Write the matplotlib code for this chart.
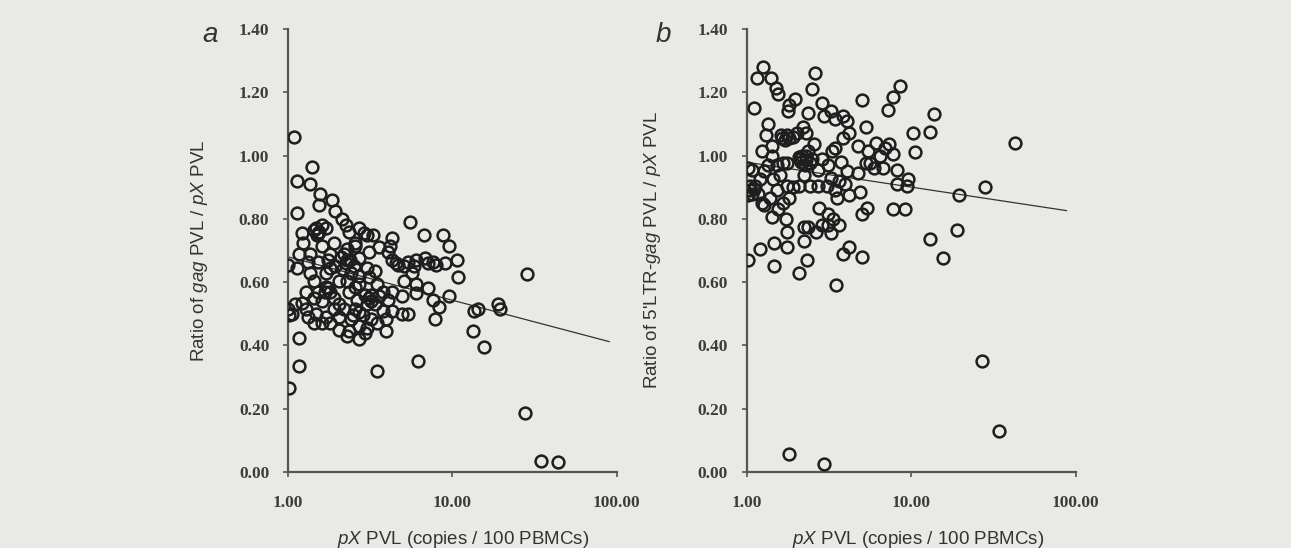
import numpy as np
import matplotlib
matplotlib.use('Agg')
import matplotlib.pyplot as plt

# 字体设置
plt.rcParams['font.family'] = ['Liberation Sans', 'DejaVu Sans']
plt.rcParams['mathtext.fontset'] = 'custom'
plt.rcParams['mathtext.rm'] = 'Liberation Sans'
plt.rcParams['mathtext.it'] = 'Liberation Sans:italic'

# panel a: pX PVL vs gag/pX ratio
gag_points = [
    (1.08, 1.06), (1.39, 0.965), (1.13, 0.92), (1.37, 0.91), (1.13, 0.82), (1.56, 0.88),
    (1.54, 0.845), (1.86, 0.86), (1.94, 0.825), (2.12, 0.80), (2.25, 0.78), (2.34, 0.76),
    (5.5, 0.79), (6.75, 0.75), (8.8, 0.75), (9.5, 0.715), (10.7, 0.67), (10.8, 0.615),
    (4.27, 0.74), (2.9, 0.755), (3.3, 0.75), (1.22, 0.755), (1.24, 0.725), (1.44, 0.765),
    (1.6, 0.78), (1.52, 0.755), (1.7, 0.77), (1.0, 0.655), (1.14, 0.645), (1.17, 0.69),
    (1.36, 0.69), (1.32, 0.665), (1.52, 0.665), (1.76, 0.67), (1.79, 0.645), (1.81, 0.69),
    (2.09, 0.68), (1.94, 0.65), (2.27, 0.705), (2.37, 0.67), (2.52, 0.65), (2.7, 0.675),
    (3.03, 0.645), (3.11, 0.695), (3.6, 0.71), (4.03, 0.695), (4.27, 0.67), (4.66, 0.655),
    (5.08, 0.65), (5.38, 0.665), (6.05, 0.67), (6.78, 0.675), (7.6, 0.665), (8.0, 0.655),
    (9.0, 0.66), (5.85, 0.65), (7.1, 0.66), (3.11, 0.615), (3.4, 0.635), (2.7, 0.62),
    (2.27, 0.605), (2.4, 0.63), (2.15, 0.64), (1.44, 0.605), (1.7, 0.585), (1.8, 0.57),
    (1.52, 0.57), (5.08, 0.605), (6.05, 0.595), (6.05, 0.565), (7.1, 0.58), (7.6, 0.545),
    (8.3, 0.52), (7.8, 0.485), (9.5, 0.555), (4.94, 0.555), (3.6, 0.555), (4.03, 0.545),
    (4.27, 0.51), (4.94, 0.50), (5.38, 0.50), (2.94, 0.56), (2.62, 0.545), (2.7, 0.505),
    (3.03, 0.53), (3.2, 0.485), (3.5, 0.47), (3.93, 0.445), (3.03, 0.455), (2.7, 0.46),
    (2.34, 0.445), (2.27, 0.43), (2.7, 0.42), (2.48, 0.495), (2.2, 0.515), (2.03, 0.49),
    (1.91, 0.515), (1.7, 0.49), (1.6, 0.47), (1.8, 0.47), (1.44, 0.47), (1.48, 0.50),
    (1.28, 0.515), (1.32, 0.49), (1.21, 0.535), (1.0, 0.515), (1.05, 0.50), (1.11, 0.53),
    (1.02, 0.495), (1.17, 0.425), (1.17, 0.335), (1.02, 0.265), (3.5, 0.32), (6.2, 0.35),
    (13.3, 0.445), (15.6, 0.395), (13.5, 0.51), (14.3, 0.515), (19.0, 0.53), (19.6, 0.515),
    (28.5, 0.625), (27.6, 0.185), (34.5, 0.035), (43.7, 0.03), (1.44, 0.55), (1.6, 0.54),
    (1.91, 0.55), (2.03, 0.53), (2.34, 0.57), (2.55, 0.585), (2.7, 0.595), (3.5, 0.595),
    (3.8, 0.57), (4.27, 0.57), (3.2, 0.56), (3.4, 0.53), (3.8, 0.51), (3.93, 0.485),
    (2.55, 0.515), (2.4, 0.485), (2.86, 0.495), (2.94, 0.44), (2.03, 0.45), (2.55, 0.715),
    (1.91, 0.725), (1.6, 0.715), (1.7, 0.63), (2.03, 0.605), (1.36, 0.63), (1.28, 0.57),
    (2.7, 0.77), (3.03, 0.75), (2.55, 0.725), (4.15, 0.715), (4.55, 0.66), (5.7, 0.63),
    (1.47, 0.77), (1.55, 0.76), (1.5, 0.75), (2.2, 0.69), (2.3, 0.67), (2.25, 0.66),
    (1.75, 0.58), (1.68, 0.57), (3.1, 0.55), (3.2, 0.54),
]

# panel b: pX PVL vs 5'LTR-gag/pX ratio
ltr_points = [
    (1.26, 1.28), (1.16, 1.245), (1.40, 1.245), (1.5, 1.215), (1.55, 1.195), (1.11, 1.15),
    (2.6, 1.26), (2.5, 1.21), (1.97, 1.18), (1.81, 1.16), (1.79, 1.14), (2.35, 1.135),
    (2.88, 1.165), (3.24, 1.14), (2.96, 1.125), (5.0, 1.175), (8.6, 1.22), (7.7, 1.185),
    (7.2, 1.145), (13.8, 1.13), (13.1, 1.075), (10.3, 1.07), (10.6, 1.01), (43.0, 1.04),
    (1.34, 1.10), (1.31, 1.065), (1.24, 1.015), (1.43, 1.03), (1.61, 1.065), (1.76, 1.065),
    (1.92, 1.06), (1.71, 1.05), (2.03, 1.07), (2.2, 1.09), (2.28, 1.07), (2.56, 1.035),
    (3.43, 1.115), (3.85, 1.125), (4.08, 1.11), (4.2, 1.07), (3.85, 1.055), (5.3, 1.09),
    (4.72, 1.03), (5.47, 1.015), (6.15, 1.04), (6.9, 1.025), (7.3, 1.035), (7.75, 1.005),
    (6.5, 1.0), (5.6, 0.975), (5.95, 0.96), (6.7, 0.96), (8.2, 0.955), (8.2, 0.91),
    (9.6, 0.925), (9.4, 0.905), (7.75, 0.83), (9.2, 0.83), (5.4, 0.835), (5.0, 0.815),
    (4.85, 0.885), (4.72, 0.945), (5.3, 0.975), (4.08, 0.95), (3.74, 0.98), (3.3, 1.015),
    (3.43, 1.025), (3.14, 0.97), (2.88, 0.99), (2.72, 0.955), (2.42, 0.975), (2.35, 1.015),
    (2.09, 0.995), (2.15, 0.98), (2.28, 1.0), (2.5, 0.99), (2.22, 0.94), (2.42, 0.905),
    (2.72, 0.905), (3.06, 0.905), (3.24, 0.93), (3.63, 0.92), (3.97, 0.91), (3.53, 0.865),
    (4.2, 0.875), (3.43, 0.89), (2.77, 0.835), (3.14, 0.815), (3.33, 0.80), (3.63, 0.78),
    (3.14, 0.78), (2.88, 0.78), (2.63, 0.76), (3.24, 0.755), (2.22, 0.775), (2.35, 0.775),
    (2.22, 0.73), (2.32, 0.67), (2.09, 0.63), (3.85, 0.69), (4.2, 0.71), (5.0, 0.68),
    (3.48, 0.59), (1.76, 0.76), (1.76, 0.71), (1.73, 0.80), (1.46, 0.725), (1.2, 0.705),
    (1.47, 0.65), (1.02, 0.67), (1.42, 0.805), (1.56, 0.83), (1.66, 0.85), (1.81, 0.865),
    (1.76, 0.905), (1.92, 0.90), (2.09, 0.905), (1.59, 0.94), (1.52, 0.97), (1.66, 0.975),
    (1.76, 0.975), (1.43, 1.0), (1.35, 0.97), (1.28, 0.95), (1.2, 0.925), (1.12, 0.905),
    (1.02, 0.96), (1.07, 0.955), (1.04, 0.905), (1.02, 0.875), (1.17, 0.88), (1.28, 0.845),
    (1.39, 0.865), (1.52, 0.89), (1.45, 0.925), (1.24, 0.85), (13.1, 0.735), (15.6, 0.675),
    (19.0, 0.765), (19.4, 0.875), (28.3, 0.90), (27.0, 0.35), (34.0, 0.13), (1.81, 0.057),
    (2.93, 0.024), (2.18, 1.0), (2.3, 0.985), (2.25, 0.97), (2.1, 0.99), (1.05, 0.89),
    (1.08, 0.88), (1.1, 0.895), (1.65, 1.055), (1.8, 1.055),
]

# 趋势线 (端点)
trend_a_x = [1.0, 90.0]
trend_a_y = [0.68, 0.412]
trend_b_x = [1.0, 88.0]
trend_b_y = [0.979, 0.826]

y_ticks = [0.0, 0.2, 0.4, 0.6, 0.8, 1.0, 1.2, 1.4]
x_ticks = [1, 10, 100]
x_ticklabels = ['1.00', '10.00', '100.00']

ylabel_a = r'Ratio of $gag$ PVL / $pX$ PVL'
ylabel_b = r"Ratio of 5'LTR-$gag$ PVL / $pX$ PVL"
xlabel = r'$pX$ PVL (copies / 100 PBMCs)'

bg = '#e9e9e5'
fig = plt.figure(figsize=(12.91, 5.48), dpi=100, facecolor=bg)


def draw_panel(rect, points, tx, ty, ylabel, letter, letter_x, ylab_x, xlab_x):
    ax = fig.add_axes(rect)
    ax.set_facecolor('none')
    xs, ys = zip(*points)
    ax.plot(xs, ys, 'o', ms=8.5, mfc='none', mec='#1e1e1e', mew=1.8, zorder=3)
    ax.plot(tx, ty, color='#333333', lw=0.9, zorder=2)
    ax.set_xscale('log')
    ax.set_xlim(1, 100)
    ax.set_ylim(0, 1.4)
    ax.set_yticks(y_ticks)
    ax.set_yticklabels(['%.2f' % v for v in y_ticks])
    ax.set_xticks(x_ticks)
    ax.set_xticklabels(x_ticklabels)
    ax.minorticks_off()
    for s in ['top', 'right']:
        ax.spines[s].set_visible(False)
    for s in ['left', 'bottom']:
        ax.spines[s].set_color('#555555')
        ax.spines[s].set_linewidth(1.6)
    ax.tick_params(axis='y', length=3.5, width=1.2, color='#555555', pad=10,
                   labelsize=12.5, labelcolor='#3c3c3c')
    ax.tick_params(axis='x', length=3.5, width=1.2, color='#555555', pad=13,
                   labelsize=12.5, labelcolor='#3c3c3c')
    for lab in ax.get_xticklabels() + ax.get_yticklabels():
        lab.set_family('Liberation Serif')
        lab.set_fontweight('bold')
    ax.set_ylabel(ylabel, fontsize=13.5, color='#333333')
    ax.yaxis.set_label_coords(ylab_x, 0.5)
    ax.set_xlabel(xlabel, fontsize=13.5, color='#333333')
    ax.xaxis.set_label_coords(xlab_x, -0.129)
    fig.text(letter_x, 0.936, letter, fontsize=20, style='italic', color='#333333',
             ha='center', va='center')
    return ax


draw_panel([0.2231, 0.1387, 0.2546, 0.8084], gag_points, trend_a_x, trend_a_y,
           ylabel_a, 'a', 0.1627, -0.237, 0.532)
draw_panel([0.5784, 0.1387, 0.2548, 0.8084], ltr_points, trend_b_x, trend_b_y,
           ylabel_b, 'b', 0.5136, -0.255, 0.52)

plt.savefig('out.png', dpi=100, facecolor=bg)
